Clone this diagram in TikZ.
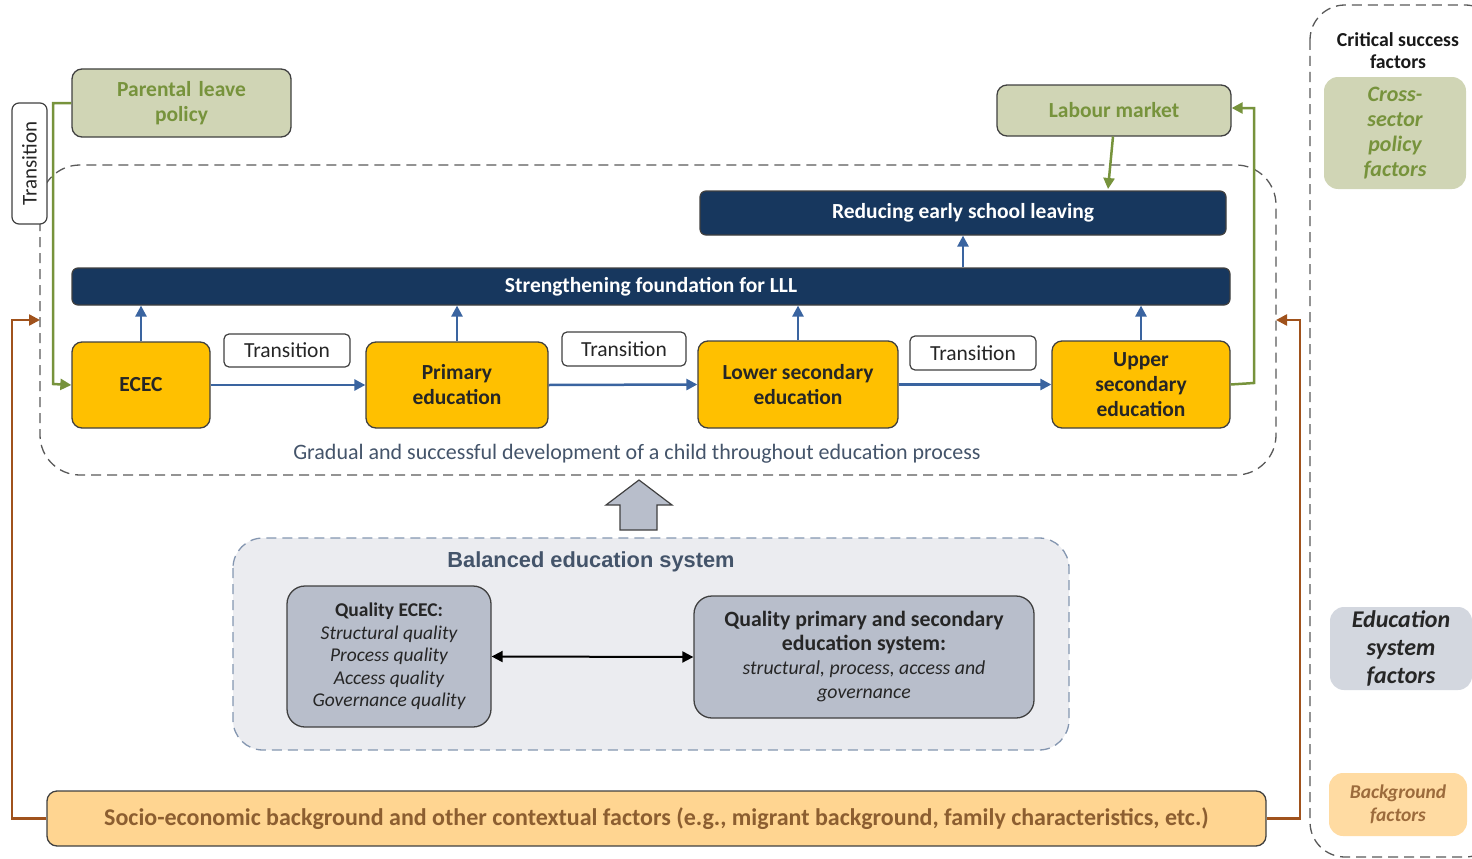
\documentclass[tikz,border=0pt]{standalone}
\usepackage{fontspec}
\setmainfont{Carlito}
\newfontfamily\arialf{Liberation Sans}
\usetikzlibrary{arrows.meta}
\definecolor{navy}{HTML}{17375E}
\definecolor{ygold}{HTML}{FFC000}
\definecolor{sage}{HTML}{D0D5B5}
\definecolor{olive}{HTML}{77933C}
\definecolor{arrblue}{HTML}{3A64A0}
\definecolor{brownl}{HTML}{A0521C}
\definecolor{browntxt}{HTML}{8C5E30}
\definecolor{bgtxt}{HTML}{9C6B3C}
\definecolor{peach}{HTML}{FFD591}
\definecolor{slate}{HTML}{44546A}
\definecolor{balfill}{HTML}{EBECF0}
\definecolor{baldash}{HTML}{8496B0}
\definecolor{qgray}{HTML}{B8BECB}
\definecolor{edugray}{HTML}{D3D7DF}
\definecolor{bord}{HTML}{404040}
\tikzset{
  base/.style={draw=bord, line width=1.3pt, rounded corners=10pt, align=center, inner sep=2pt},
  stage/.style={base, fill=ygold, font=\fontsize{21.5}{25}\selectfont\bfseries, text=black!85},
  navybar/.style={draw=bord, line width=1.2pt, rounded corners=6pt, fill=navy, text=white, font=\fontsize{21.5}{24}\selectfont\bfseries},
  transbox/.style={draw=bord, line width=1.2pt, rounded corners=5pt, fill=white, font=\fontsize{21.5}{24}\selectfont, text=black!85},
  policy/.style={base, fill=sage, text=olive, font=\fontsize{21.5}{25}\selectfont\bfseries},
  quality/.style={base, fill=qgray, rounded corners=18pt, text=black!85},
  blarr/.style={draw=arrblue, line width=2.5pt, -{Triangle[length=11pt,width=11pt]}},
  grarr/.style={draw=olive, line width=2.5pt, -{Triangle[length=11pt,width=11pt]}},
  brarr/.style={draw=brownl, line width=2.5pt, -{Triangle[length=11pt,width=11pt]}},
  dashbox/.style={dash pattern=on 10pt off 6pt, line width=1.3pt},
}
\begin{document}
\begin{tikzpicture}[x=1pt,y=-1pt]
\useasboundingbox (0,0) rectangle (1472,859);
% main dashed container
\draw[dashbox, draw=black!65, rounded corners=40pt] (40,165) rectangle (1276,475);
% right dashed column
\draw[dashbox, draw=black!65, rounded corners=35pt] (1310,5) rectangle (1500,857);
% balanced system box
\draw[dashbox, draw=baldash, fill=balfill, rounded corners=30pt] (233,538) rectangle (1069,750);

% top nodes
\node[policy, minimum width=219pt, minimum height=68pt, text width=200pt] (parent) at (181.5,103) {Parental leave\\policy};
\node[policy, minimum width=234pt, minimum height=51pt] (labour) at (1114,110.5) {Labour market};
\node[transbox, rotate=90, minimum width=121pt, minimum height=35pt, rounded corners=7pt, font=\fontsize{21}{24}\selectfont] (vtrans) at (29.5,163.5) {Transition};

\node[navybar, minimum width=526pt, minimum height=44pt] (reduce) at (963,213) {Reducing early school leaving};
\node[navybar, minimum width=1158pt, minimum height=37pt] (strength) at (651,286.5) {Strengthening foundation for LLL};

% stages
\node[stage, minimum width=138pt, minimum height=86pt] (ecec) at (141,385) {ECEC};
\node[stage, minimum width=182pt, minimum height=86pt] (prim) at (457,385) {Primary\\education};
\node[stage, minimum width=200pt, minimum height=87pt] (lower) at (798,384.5) {Lower secondary\\education};
\node[stage, minimum width=178pt, minimum height=87pt] (upper) at (1141,384.5) {Upper\\secondary\\education};

\node[transbox, minimum width=126pt, minimum height=33pt] (t1) at (287,350.5) {Transition};
\node[transbox, minimum width=124pt, minimum height=34pt] (t2) at (624,349) {Transition};
\node[transbox, minimum width=126pt, minimum height=34pt] (t3) at (973,353) {Transition};

\node[text=slate, font=\fontsize{22}{24}\selectfont] (gradual) at (637,454) {Gradual and successful development of a child throughout education process};

% arrows
\draw[blarr] (ecec.east) -- (prim.west);
\draw[blarr] (prim.east) -- (lower.west);
\draw[blarr] (lower.east) -- (upper.west);
\draw[blarr] (ecec.north) -- (ecec.north |- strength.south);
\draw[blarr] (prim.north) -- (prim.north |- strength.south);
\draw[blarr] (lower.north) -- (lower.north |- strength.south);
\draw[blarr] (upper.north) -- (upper.north |- strength.south);
\draw[blarr] (strength.north -| reduce) -- (reduce.south);

\draw[grarr] (parent.west |- 0,103) -- (53,103) -- (53,384) -- (ecec.west);
\draw[grarr] (upper.east) -- (1254,383) -- (1254,108) -- (labour.east |- 0,108);
\draw[grarr] (1113,136.5) -- (1108,189);

% big gray arrow
\draw[fill=qgray, draw=bord, line width=1.2pt] (639,480) -- (672,505) -- (657,505) -- (657,530) -- (620,530) -- (620,505) -- (606,505) -- cycle;

% balanced system
\node[text=slate, font=\arialf\fontsize{21.8}{24}\selectfont\bfseries] (baltitle) at (591,562) {Balanced education system};
\node[quality, minimum width=204pt, minimum height=141pt, font=\fontsize{19.5}{22.5}\selectfont] (qecec) at (389,656.5) {\textbf{Quality ECEC:}\\\itshape Structural quality\\\itshape Process quality\\\itshape Access quality\\\itshape Governance quality};
\node[quality, minimum width=340pt, minimum height=122pt, font=\fontsize{19.8}{24}\selectfont] (qprim) at (864,657) {\fontsize{21.8}{24}\selectfont\bfseries Quality primary and secondary\\\fontsize{21.8}{24}\selectfont\bfseries education system:\\\itshape structural, process, access and\\\itshape governance};
\draw[draw=black, line width=2pt, {Triangle[length=11pt,width=11pt]}-{Triangle[length=11pt,width=11pt]}] (qecec.east) -- (qprim.west);

% bottom bar
\node[base, fill=peach, text=browntxt, minimum width=1219pt, minimum height=55pt, font=\fontsize{24}{26}\selectfont\bfseries] (socio) at (656.5,818.5) {Socio-economic background and other contextual factors (e.g., migrant background, family characteristics, etc.)};
\draw[brarr] (socio.west) -- (12,818.5) -- (12,320) -- (40,320);
\draw[brarr] (socio.east) -- (1300,818.5) -- (1300,320) -- (1276,320);

% right column
\node[font=\fontsize{19.8}{22}\selectfont\bfseries, align=center, text=black!90] (csf) at (1398,51) {Critical success\\factors};
\node[fill=sage, rounded corners=14pt, minimum width=142pt, minimum height=112pt, align=center, text=olive, font=\fontsize{22}{25}\selectfont\bfseries\itshape] (cross) at (1395,133) {Cross-\\sector\\policy\\factors};
\node[fill=edugray, rounded corners=14pt, minimum width=142pt, minimum height=83pt, align=center, text=black!85, font=\fontsize{24}{28}\selectfont\bfseries\itshape] (edu) at (1401,648.5) {Education\\system\\factors};
\node[fill=peach!85, rounded corners=14pt, minimum width=138pt, minimum height=63pt, align=center, text=bgtxt, font=\fontsize{19.5}{23}\selectfont\bfseries\itshape] (bg) at (1398,804.5) {Background\\factors};
\end{tikzpicture}
\end{document}
